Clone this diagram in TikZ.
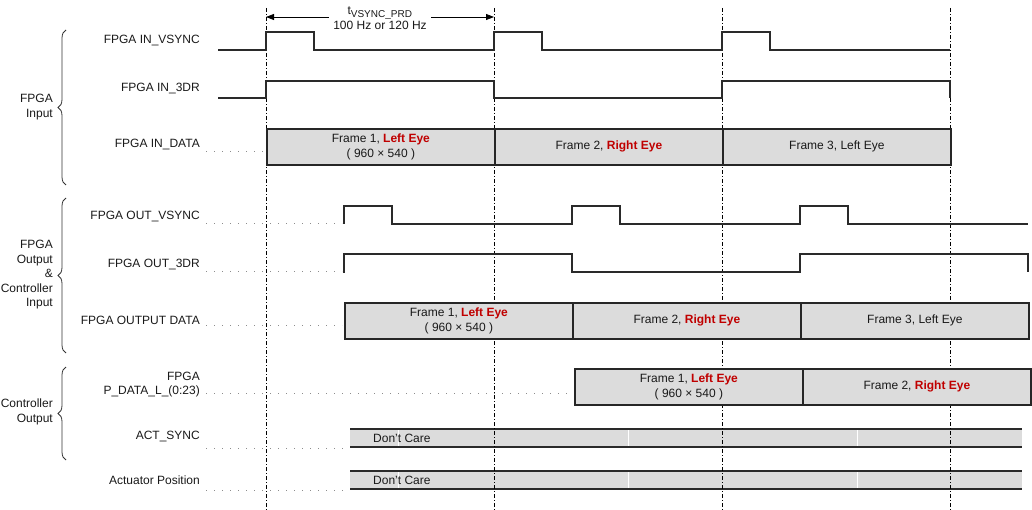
\documentclass[tikz,border=0pt]{standalone}
\usepackage{fontspec}
\setmainfont{Liberation Sans}
\usetikzlibrary{decorations.pathreplacing,arrows.meta}
\definecolor{boxgray}{HTML}{DCDCDC}
\definecolor{eyered}{HTML}{C00000}
\definecolor{sig}{HTML}{2A2A2A}
\tikzset{
  wave/.style={draw=sig, line width=1.6pt, line join=miter},
  databox/.style={draw=black!85, line width=1.8pt, fill=boxgray, minimum width=228pt, minimum height=36pt, inner sep=0pt, anchor=north west},
  dontcare/.style={fill=boxgray, draw=none},
  barline/.style={draw=sig, line width=1.6pt},
  guide/.style={draw=black, line width=0.8pt, dash pattern=on 4pt off 2pt on 1pt off 2pt},
  leader/.style={draw=black!45, line width=1pt, dash pattern=on 0.8pt off 7.2pt},
  siglabel/.style={anchor=east, font=\fontsize{12}{14}\selectfont, text=black!90, inner sep=0pt},
  grplabel/.style={anchor=east, align=right, font=\fontsize{12}{14.5}\selectfont, text=black!90, inner sep=0pt},
  boxtext/.style={font=\fontsize{12}{15}\selectfont, text=black!90, align=center, inner sep=0pt},
  grpbrace/.style={draw=black!80, line width=0.8pt, decorate, decoration={brace, amplitude=8pt}}
}
\newcommand{\LE}{\textcolor{eyered}{\textbf{Left Eye}}}
\newcommand{\RE}{\textcolor{eyered}{\textbf{Right Eye}}}
\begin{document}
\begin{tikzpicture}[x=1pt,y=-1pt]
\useasboundingbox (0,0) rectangle (1032,510);

% guide coordinates
\foreach \n/\x in {a/266,b/494,c/722,d/950}{
  \coordinate (g\n top) at (\x,8);
  \coordinate (g\n bot) at (\x,510);
}
% group braces
\draw[grpbrace] (66,185) -- (66,30) coordinate (br1);
\draw[grpbrace] (66,353) -- (66,198) coordinate (br2);
\draw[grpbrace] (66,460) -- (66,367) coordinate (br3);
\node[grplabel] (gl1) at (53,107) {FPGA\\Input};
\node[grplabel] (gl2) at (53,275) {FPGA\\Output\\\&\\Controller\\Input};
\node[grplabel] (gl3) at (53,412) {Controller\\Output};

% signal labels
\node[siglabel] (l1) at (200,41) {FPGA IN\_VSYNC};
\node[siglabel] (l2) at (200,89) {FPGA IN\_3DR};
\node[siglabel] (l3) at (200,145) {FPGA IN\_DATA};
\node[siglabel] (l4) at (200,217) {FPGA OUT\_VSYNC};
\node[siglabel] (l5) at (200,265) {FPGA OUT\_3DR};
\node[siglabel] (l6) at (200,320) {FPGA OUTPUT DATA};
\node[siglabel, align=right] (l7) at (200,385) {FPGA\\P\_DATA\_L\_(0:23)};
\node[siglabel] (l8) at (200,437) {ACT\_SYNC};
\node[siglabel] (l9) at (200,480) {Actuator Position};

% leader dots
\coordinate (d3s) at (206,152); \coordinate (d3e) at (264,152);
\coordinate (d4s) at (206,224); \coordinate (d4e) at (342,224);
\coordinate (d5s) at (206,272); \coordinate (d5e) at (342,272);
\coordinate (d6s) at (206,325); \coordinate (d6e) at (342,325);
\coordinate (d7s) at (206,393); \coordinate (d7e) at (572,393);
\coordinate (d8s) at (206,448); \coordinate (d8e) at (348,448);
\coordinate (d9s) at (206,490); \coordinate (d9e) at (348,490);
\foreach \i in {3,...,9}{ \draw[leader] (d\i s) -- (d\i e); }

% don't care bars
\fill[dontcare] (350,429) rectangle (1022,447);
\fill[dontcare] (350,471) rectangle (1022,489);
\foreach \x in {398,628,857}{
  \draw[white, line width=0.6pt] (\x,430) -- (\x,446);
  \draw[white, line width=0.6pt] (\x,472) -- (\x,488);
}
\draw[barline] (350,429) -- (1022,429);
\draw[barline] (350,447) -- (1022,447);
\draw[barline] (350,471) -- (1022,471);
\draw[barline] (350,489) -- (1022,489);
\node[boxtext, anchor=west] (dc1) at (373,438) {Don’t Care};
\node[boxtext, anchor=west] (dc2) at (373,480) {Don’t Care};

% guides
\foreach \n in {a,b,c,d}{ \draw[guide] (g\n top) -- (g\n bot); }

% data boxes (over guides)
\node[databox] (in1) at (266,128) {};
\node[databox] (in2) at (494,128) {};
\node[databox] (in3) at (722,128) {};
\node[databox] (out1) at (344,302) {};
\node[databox] (out2) at (572,302) {};
\node[databox] (out3) at (800,302) {};
\node[databox] (pd1) at (574,368) {};
\node[databox] (pd2) at (802,368) {};

% waveforms
\draw[wave] (218,50) -- (266,50) -- (266,32) -- (314,32) -- (314,50) -- (494,50) -- (494,32) -- (542,32) -- (542,50)
  -- (722,50) -- (722,32) -- (770,32) -- (770,50) -- (950,50);
\draw[wave] (218,98) -- (266,98) -- (266,81) -- (494,81) -- (494,98) -- (722,98) -- (722,81) -- (950,81) -- (950,98);
\draw[wave] (344,224) -- (344,206) -- (392,206) -- (392,224) -- (572,224) -- (572,206) -- (620,206) -- (620,224)
  -- (800,224) -- (800,206) -- (848,206) -- (848,224) -- (1028,224);
\draw[wave] (344,273) -- (344,254) -- (572,254) -- (572,272) -- (800,272) -- (800,254) -- (1028,254) -- (1028,272);

% box texts
\node[boxtext] (t1) at (in1.center) {Frame 1, \LE\\( 960 × 540 )};
\node[boxtext] (t2) at (in2.center) {Frame 2, \RE};
\node[boxtext] (t3) at (in3.center) {Frame 3, Left Eye};
\node[boxtext] (t4) at (out1.center) {Frame 1, \LE\\( 960 × 540 )};
\node[boxtext] (t5) at (out2.center) {Frame 2, \RE};
\node[boxtext] (t6) at (out3.center) {Frame 3, Left Eye};
\node[boxtext] (t7) at (pd1.center) {Frame 1, \LE\\( 960 × 540 )};
\node[boxtext] (t8) at (pd2.center) {Frame 2, \RE};

% period annotation
\coordinate (pa) at (266,17);
\coordinate (pb) at (494,17);
\draw[line width=0.8pt, {Triangle[length=8pt,width=6pt]}-{Triangle[length=8pt,width=6pt]}] (pa) -- (pb);
\node[boxtext, fill=white, inner xsep=4pt, inner ysep=1pt] (pl) at (380,18)
  {t\textsubscript{\fontsize{10}{10}\selectfont VSYNC\_PRD}\\100 Hz or 120 Hz};
\end{tikzpicture}
\end{document}
